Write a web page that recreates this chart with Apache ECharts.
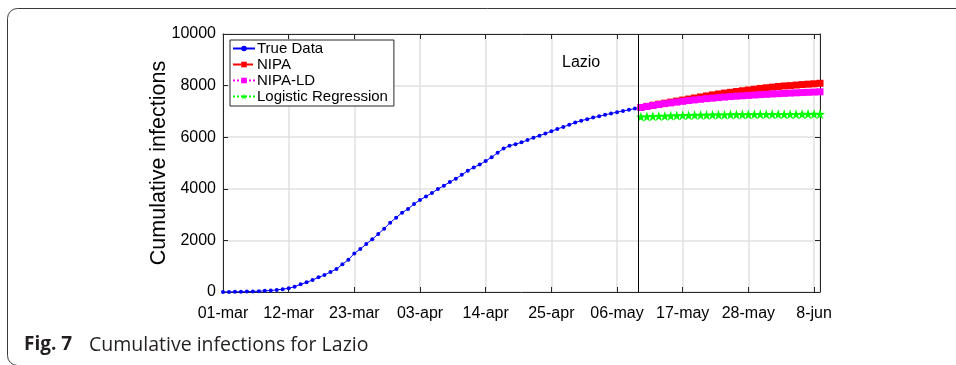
<!DOCTYPE html>
<html>
<head>
<meta charset="utf-8">
<script src="https://cdn.jsdelivr.net/npm/echarts@6/dist/echarts.min.js"></script>
<style>html,body{margin:0;padding:0;background:#fff;}#c{width:956px;height:365px;}</style>
</head>
<body>
<div id="c"></div>
<script>
// Tick labels (every 11 days starting 01-mar, day 0)
const tickLabels = ['01-mar','12-mar','23-mar','03-apr','14-apr','25-apr','06-may','17-may','28-may','8-jun'];
// True data: days 0..69 (01-mar .. 09-may)
const trueData = [0,3,6,10,15,22,30,44,60,80,110,142,206,297,374,465,568,658,774,890,
  1071,1252,1497,1665,1860,2043,2248,2455,2687,2881,3075,3217,3411,3566,3700,3840,3990,4120,4260,4390,
  4540,4700,4830,4940,5077,5220,5400,5560,5670,5730,5800,5890,5980,6060,6140,6230,6320,6400,6480,6570,
  6640,6700,6760,6810,6870,6920,6970,7020,7060,7110];
// Predictions: days 70..100
const nipa = [7150,7195,7240,7280,7320,7360,7400,7440,7480,7520,7560,7600,7640,7675,7710,7740,
  7770,7800,7830,7860,7890,7915,7940,7965,7985,8000,8020,8040,8055,8070,8090];
const nipaLD = [7150,7190,7230,7265,7300,7330,7360,7390,7420,7445,7470,7495,7515,7535,7555,7575,
  7590,7605,7620,7635,7650,7662,7674,7686,7698,7710,7720,7730,7740,7750,7760];
const logistic = [6790,6800,6810,6818,6826,6833,6840,6846,6851,6856,6860,6864,6868,6871,6874,6877,
  6879,6881,6883,6885,6887,6888,6889,6890,6891,6892,6893,6894,6895,6896,6897];
const trueStartDay = 0;
const predStartDay = 70;
const splitDay = 69.5;

const toPairs = (arr, start) => arr.map((v, i) => [start + i, v]);
const star = 'path://M0,-10L2.35,-3.24L9.51,-3.09L3.8,1.24L5.88,8.09L0,4L-5.88,8.09L-3.8,1.24L-9.51,-3.09L-2.35,-3.24Z';
const axisCol = '#262626';
const font = 'Liberation Sans, Arial, sans-serif';
const capFont = 'Open Sans, Noto Sans, sans-serif';

const chart = echarts.init(document.getElementById('c'), null, {renderer: 'canvas'});
const xBase = {
  type: 'value', min: 0, max: 100, interval: 11,
  axisLine: {show: true, onZero: false, lineStyle: {color: axisCol, width: 1}},
  axisTick: {show: true, inside: true, length: 5, lineStyle: {color: axisCol}},
};
chart.setOption({
  animation: false,
  grid: {left: 223, right: 136, top: 34, bottom: 73},
  xAxis: [
    Object.assign({}, xBase, {
      position: 'bottom',
      axisLabel: {color: '#000', fontSize: 16, fontFamily: font, margin: 14,
        formatter: v => { const k = Math.round(v / 11); return (Math.abs(v - k * 11) < 1e-6 && k < tickLabels.length) ? tickLabels[k] : ''; }},
      splitLine: {show: true, lineStyle: {color: '#e0e0e0', width: 1.5}}
    }),
    Object.assign({}, xBase, {position: 'top', axisLabel: {show: false}, splitLine: {show: false}})
  ],
  yAxis: [
    {type: 'value', min: 0, max: 10000, interval: 2000, position: 'left',
      name: 'Cumulative infections', nameLocation: 'middle', nameGap: 53, nameMoveOverlap: false,
      nameTextStyle: {color: '#000', fontSize: 21.5, fontFamily: font},
      axisLine: {show: true, onZero: false, lineStyle: {color: axisCol, width: 1}},
      axisTick: {show: true, inside: true, length: 5, lineStyle: {color: axisCol}},
      axisLabel: {color: '#000', fontSize: 16, fontFamily: font, margin: 7, formatter: v => String(v)},
      splitLine: {show: true, lineStyle: {color: '#e0e0e0', width: 1.5}}},
    {type: 'value', min: 0, max: 10000, interval: 2000, position: 'right',
      axisLine: {show: true, onZero: false, lineStyle: {color: axisCol, width: 1}},
      axisTick: {show: true, inside: true, length: 5, lineStyle: {color: axisCol}},
      axisLabel: {show: false}, splitLine: {show: false}}
  ],
  legend: {
    orient: 'vertical', left: 230, top: 40,
    padding: [1, 6, 2, 2], itemGap: 1, itemWidth: 22, itemHeight: 7,
    backgroundColor: '#fff', borderColor: axisCol, borderWidth: 1,
    textStyle: {color: '#000', fontSize: 15, fontFamily: font, padding: [0, 0, 0, -3]},
    data: ['True Data', 'NIPA', 'NIPA-LD', 'Logistic Regression']
  },
  series: [
    {name: 'True Data', type: 'line', data: toPairs(trueData, trueStartDay),
      color: '#0000ff', symbol: 'circle', symbolSize: 4, showAllSymbol: true,
      lineStyle: {width: 1, color: '#0000ff'}, itemStyle: {color: '#0000ff'},
      markLine: {silent: true, symbol: 'none', label: {show: false},
        lineStyle: {color: '#000', type: 'solid', width: 1}, data: [{xAxis: splitDay}]}},
    {name: 'NIPA', type: 'line', data: toPairs(nipa, predStartDay),
      color: '#ff0000', symbol: 'rect', symbolSize: 7, showAllSymbol: true,
      lineStyle: {width: 1, type: 'dashed', color: '#ff0000'}, itemStyle: {color: '#ff0000'}},
    {name: 'NIPA-LD', type: 'line', data: toPairs(nipaLD, predStartDay),
      color: '#ff00ff', symbol: 'rect', symbolSize: 7, showAllSymbol: true,
      lineStyle: {width: 1, type: 'dotted', color: '#ff00ff'}, itemStyle: {color: '#ff00ff'}},
    {name: 'Logistic Regression', type: 'line', data: toPairs(logistic, predStartDay),
      color: '#00ff00', symbol: star, symbolSize: 10, showAllSymbol: true,
      lineStyle: {width: 1, type: 'dotted', color: '#00ff00'}, itemStyle: {color: '#00ff00'}}
  ],
  graphic: [
    {type: 'rect', silent: true, shape: {x: 7.5, y: 8.5, width: 1000, height: 357, r: 10},
      style: {fill: 'none', stroke: '#3a3a3a', lineWidth: 1}, z: -10},
    {type: 'text', left: 562, top: 55, silent: true,
      style: {text: 'Lazio', fill: '#000', fontSize: 16, fontFamily: font}},
    {type: 'text', left: 24, top: 335, silent: true,
      style: {text: 'Fig. 7', fill: '#231f20', fontSize: 19, fontWeight: 'bold', fontFamily: capFont}},
    {type: 'text', left: 89, top: 335, silent: true,
      style: {text: 'Cumulative infections for Lazio', fill: '#231f20', fontSize: 19.5, fontFamily: capFont}}
  ]
});
</script>
</body>
</html>
